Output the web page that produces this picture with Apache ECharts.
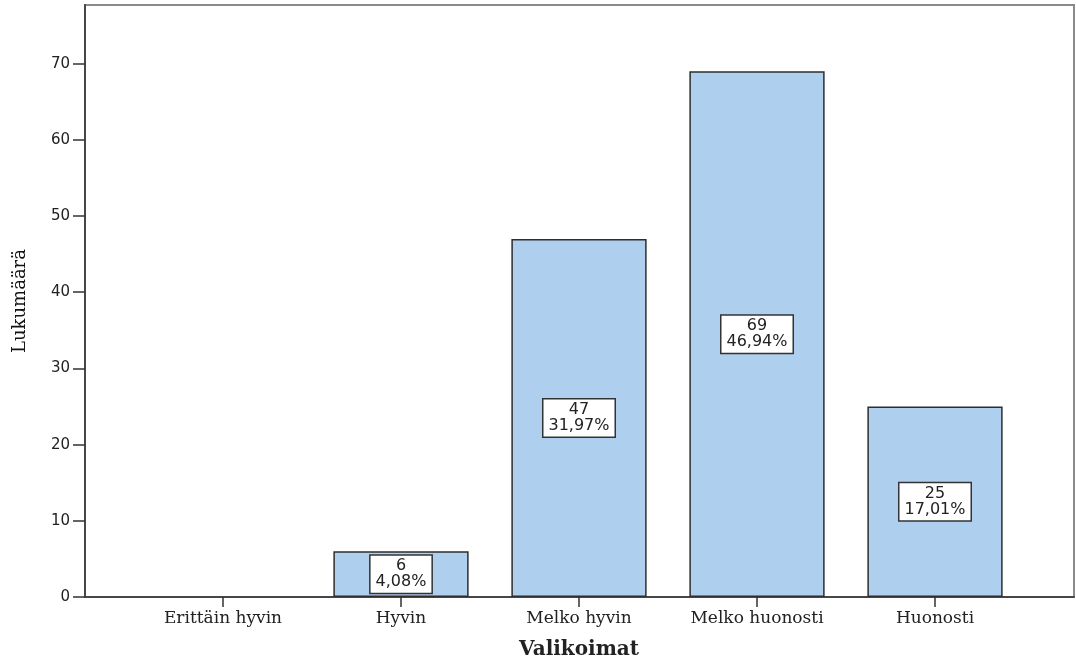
<!DOCTYPE html>
<html>
<head>
<meta charset="utf-8">
<script src="https://cdn.jsdelivr.net/npm/echarts@6/dist/echarts.min.js"></script>
<style>
  html, body { margin: 0; padding: 0; background: #fff; }
  #chart { width: 1076px; height: 666px; }
</style>
</head>
<body>
<div id="chart"></div>
<script>
// Valikoimat – response counts
const categories = ['Erittäin hyvin', 'Hyvin', 'Melko hyvin', 'Melko huonosti', 'Huonosti'];
const counts = [0, 6, 47, 69, 25];
const percentLabels = ['0,00%', '4,08%', '31,97%', '46,94%', '17,01%'];
const yTicks = [0, 10, 20, 30, 40, 50, 60, 70];

const Y_MAX = 77.7;
const axisColor = '#474747';
const textColor = '#222';

const barData = counts.map((v, i) => ({
  value: v,
  label: { show: v > 0 },
  itemStyle: v > 0 ? {} : { borderWidth: 0 },
  pct: percentLabels[i]
}));

const chart = echarts.init(document.getElementById('chart'), null, { renderer: 'canvas' });

chart.setOption({
  animation: false,
  backgroundColor: '#fff',
  grid: [
    // frame grid with the value axis
    { left: 85, right: 2, top: 5, bottom: 69, show: true, borderColor: '#8a8a8a', borderWidth: 2, backgroundColor: 'transparent' },
    // inner grid holding the category bars
    { left: 134, right: 52, top: 5, bottom: 69 }
  ],
  xAxis: [
    {
      gridIndex: 0, type: 'value', min: 0, max: 1,
      axisLine: { show: true, lineStyle: { color: axisColor, width: 2 } },
      axisTick: { show: false }, axisLabel: { show: false }, splitLine: { show: false }
    },
    {
      gridIndex: 1, type: 'category', data: categories,
      axisLine: { show: false },
      axisTick: { show: true, alignWithLabel: true, length: 10, lineStyle: { color: '#333', width: 1.5 } },
      axisLabel: { color: textColor, fontFamily: 'DejaVu Serif', fontSize: 17, margin: 13 },
      name: 'Valikoimat', nameLocation: 'middle', nameGap: 43,
      nameTextStyle: { color: textColor, fontFamily: 'DejaVu Serif', fontWeight: 'bold', fontSize: 20 }
    }
  ],
  yAxis: [
    {
      gridIndex: 0, type: 'value', min: 0, max: Y_MAX,
      axisLine: { show: true, lineStyle: { color: axisColor, width: 2 } },
      axisTick: { show: true, length: 12, customValues: yTicks, lineStyle: { color: '#333', width: 1.5 } },
      axisLabel: { color: textColor, fontFamily: 'DejaVu Sans', fontSize: 15, margin: 15, customValues: yTicks },
      splitLine: { show: false },
      name: 'Lukumäärä', nameLocation: 'middle', nameGap: 56, nameRotate: 90,
      nameTextStyle: { color: '#111', fontFamily: 'DejaVu Serif', fontSize: 18 }
    },
    {
      gridIndex: 1, type: 'value', min: 0, max: Y_MAX, show: false
    }
  ],
  series: [{
    type: 'bar',
    xAxisIndex: 1, yAxisIndex: 1,
    data: barData,
    barWidth: '76%',
    itemStyle: { color: '#aecfee', borderColor: '#2e2e2e', borderWidth: 1.5 },
    label: {
      position: 'inside',
      formatter: p => p.value + '\n' + p.data.pct,
      color: textColor,
      fontFamily: 'DejaVu Sans',
      fontSize: 16,
      lineHeight: 16,
      align: 'center',
      backgroundColor: '#fff',
      borderColor: '#333',
      borderWidth: 1.5,
      padding: [3, 5, 2, 5]
    }
  }]
});
</script>
</body>
</html>
